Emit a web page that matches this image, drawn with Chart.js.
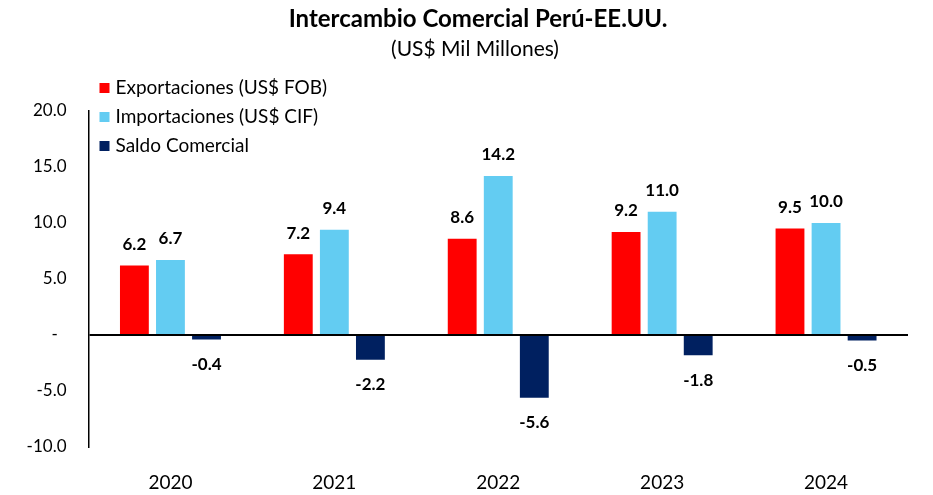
<!DOCTYPE html>
<html>
<head>
<meta charset="utf-8">
<script src="https://cdn.jsdelivr.net/npm/chart.js@4"></script>
<style>
  html, body { margin: 0; padding: 0; background: #fff; }
  #wrap { width: 933px; height: 495px; }
</style>
</head>
<body>
<div id="wrap"><canvas id="chart" width="933" height="495"></canvas></div>
<script>
// datos (US$ Mil Millones)
const years = ['2020', '2021', '2022', '2023', '2024'];
const exportaciones = [6.2, 7.2, 8.6, 9.2, 9.5];
const importaciones = [6.7, 9.4, 14.2, 11.0, 10.0];
const saldo = [-0.4, -2.2, -5.6, -1.8, -0.5];
const seriesNames = ['Exportaciones (US$ FOB)', 'Importaciones (US$ CIF)', 'Saldo Comercial'];
const yTicks = [-10, -5, 0, 5, 10, 15, 20];

const FONT = 'Lato, Calibri, sans-serif';
const COLORS = ['#ff0000', '#63ccf2', '#002060'];
// el título del original está algo corrido a la derecha
const SHIFT = '\u2002\u2002\u2002\u2002';

// etiquetas de valor encima / debajo de cada barra
const valueLabels = {
    id: 'valueLabels',
    afterDatasetsDraw(chart) {
        const ctx = chart.ctx;
        ctx.save();
        ctx.font = 'bold 17px ' + FONT;
        ctx.fillStyle = '#000';
        ctx.textAlign = 'center';
        ctx.textBaseline = 'middle';
        chart.data.datasets.forEach((ds, i) => {
            chart.getDatasetMeta(i).data.forEach((bar, j) => {
                const v = ds.data[j];
                const y = v >= 0 ? bar.y - 21 : bar.y + 25;
                ctx.fillText(v.toFixed(1), bar.x, y);
            });
        });
        ctx.restore();
    }
};

// leyenda vertical dentro del área del gráfico (arriba a la izquierda)
const insideLegend = {
    id: 'insideLegend',
    afterDraw(chart) {
        const ctx = chart.ctx;
        const x0 = chart.chartArea.left + 11;
        const y0 = chart.chartArea.top - 23;
        ctx.save();
        ctx.font = '19px ' + FONT;
        ctx.textBaseline = 'middle';
        ctx.textAlign = 'left';
        chart.data.datasets.forEach((ds, i) => {
            const y = y0 + i * 29;
            ctx.fillStyle = ds.backgroundColor;
            ctx.fillRect(x0, y - 5, 10, 10);
            ctx.fillStyle = '#000';
            ctx.fillText(ds.label, x0 + 16, y);
        });
        ctx.restore();
    }
};

const ctx = document.getElementById('chart').getContext('2d');
new Chart(ctx, {
    type: 'bar',
    data: {
        labels: years,
        datasets: [
            { label: seriesNames[0], data: exportaciones, backgroundColor: COLORS[0] },
            { label: seriesNames[1], data: importaciones, backgroundColor: COLORS[1] },
            { label: seriesNames[2], data: saldo, backgroundColor: COLORS[2] }
        ]
    },
    options: {
        responsive: false,
        animation: false,
        categoryPercentage: 0.66,
        barPercentage: 0.8,
        layout: { padding: { top: 0, right: 25, bottom: 0, left: 0 } },
        plugins: {
            legend: { display: false },
            tooltip: { enabled: false },
            title: {
                display: true,
                text: SHIFT + 'Intercambio Comercial Perú-EE.UU.',
                color: '#000',
                font: { family: FONT, size: 24, weight: 'bold', lineHeight: 1 },
                padding: { top: 7, bottom: 8 }
            },
            subtitle: {
                display: true,
                text: SHIFT + '(US$ Mil Millones)',
                color: '#000',
                font: { family: FONT, size: 21, lineHeight: 1 },
                padding: { top: 0, bottom: 51 }
            }
        },
        scales: {
            x: {
                afterFit: (scale) => { scale.height = 48; },
                grid: { display: false, drawTicks: false },
                border: { display: false },
                ticks: { color: '#000', font: { family: FONT, size: 19 }, padding: 24 }
            },
            y: {
                min: -10,
                max: 20,
                afterFit: (scale) => { scale.width = 88.5; },
                afterBuildTicks: (scale) => { scale.ticks = yTicks.map(v => ({ value: v })); },
                grid: {
                    drawTicks: false,
                    lineWidth: 2,
                    color: (c) => (c.tick && c.tick.value === 0 ? '#000' : 'rgba(0,0,0,0)')
                },
                border: { display: true, color: '#000', width: 1.5 },
                ticks: {
                    color: '#000',
                    font: { family: FONT, size: 17 },
                    padding: 22,
                    callback: (v) => (v === 0 ? '-  ' : v.toFixed(1))
                }
            }
        }
    },
    plugins: [valueLabels, insideLegend]
});
</script>
</body>
</html>
